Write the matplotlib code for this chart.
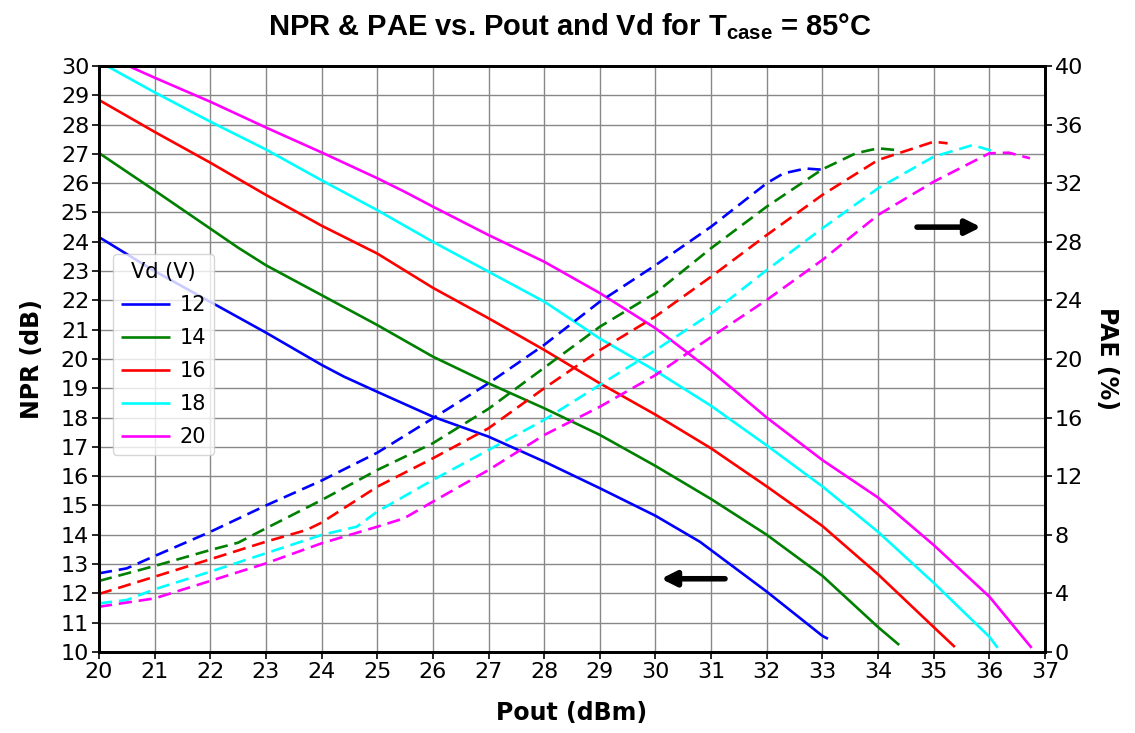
import matplotlib
matplotlib.use("Agg")
import matplotlib.pyplot as plt
import numpy as np

plt.rcParams['font.family'] = ['DejaVu Sans']
plt.rcParams['mathtext.fontset'] = 'custom'
plt.rcParams['mathtext.rm'] = 'DejaVu Sans'
plt.rcParams['mathtext.bf'] = 'Liberation Sans:bold'

# Vd values and colours
vd_labels = ['12', '14', '16', '18', '20']
colors = ['blue', 'green', 'red', 'cyan', 'magenta']

# NPR (dB) vs Pout (dBm), solid lines
npr_x_12 = [20, 21, 22, 23, 24, 24.4, 25, 26, 27, 28, 29, 30, 30.8, 32, 33, 33.1]
npr_12 = [24.16, 23.0, 21.95, 20.9, 19.8, 19.4, 18.88, 18.03, 17.35, 16.5, 15.59, 14.65, 13.76, 12.06, 10.55, 10.45]

npr_x_14 = [20, 21, 22, 22.5, 23, 24, 25, 26, 27, 28, 29, 30, 31, 32, 33, 34, 34.38]
npr_14 = [27.03, 25.75, 24.45, 23.8, 23.2, 22.18, 21.16, 20.08, 19.17, 18.32, 17.41, 16.35, 15.22, 14.0, 12.6, 10.85, 10.24]

npr_x_16 = [20, 21, 22, 23, 24, 25, 26, 27, 28, 29, 30, 31, 32, 33, 34, 35, 35.38]
npr_16 = [28.84, 27.75, 26.7, 25.6, 24.55, 23.6, 22.43, 21.39, 20.31, 19.17, 18.1, 16.95, 15.65, 14.3, 12.65, 10.85, 10.17]

npr_x_18 = [20, 21, 22, 23, 24, 25, 26, 27, 28, 29, 30, 31, 32, 33, 34, 35, 36, 36.15]
npr_18 = [30.15, 29.1, 28.1, 27.15, 26.1, 25.08, 24.0, 22.98, 21.96, 20.7, 19.6, 18.4, 17.05, 15.65, 14.1, 12.36, 10.52, 10.14]

npr_x_20 = [20, 21, 22, 23, 24, 25, 25.5, 26, 27, 28, 29, 30, 31, 32, 33, 34, 35, 36, 36.76]
npr_20 = [30.45, 29.6, 28.78, 27.9, 27.05, 26.17, 25.7, 25.2, 24.23, 23.32, 22.25, 21.05, 19.6, 18.0, 16.55, 15.27, 13.65, 11.89, 10.14]

# PAE (%) vs Pout (dBm), dashed lines
pae_x_12 = [20, 20.5, 21, 22, 23, 24, 25, 26, 27, 28, 29, 30, 31, 32, 32.3, 32.7, 33.07]
pae_12 = [5.37, 5.71, 6.55, 8.2, 10.0, 11.7, 13.6, 15.95, 18.34, 20.96, 23.91, 26.4, 29.03, 32.0, 32.67, 33.0, 32.9]

pae_x_14 = [20, 21, 22, 22.5, 23, 24, 25, 26, 27, 28, 29, 30, 31, 32, 33, 33.6, 34, 34.3]
pae_14 = [4.85, 5.87, 6.96, 7.46, 8.44, 10.37, 12.42, 14.25, 16.6, 19.4, 22.2, 24.5, 27.56, 30.4, 32.95, 34.04, 34.38, 34.27]

pae_x_16 = [20, 21, 22, 23, 23.73, 24, 25, 26, 27, 28, 29, 30, 31, 32, 33, 34, 35, 35.25]
pae_16 = [3.96, 5.14, 6.33, 7.53, 8.33, 8.83, 11.28, 13.22, 15.27, 18.0, 20.6, 22.9, 25.62, 28.46, 31.2, 33.58, 34.83, 34.72]

pae_x_18 = [20, 20.5, 21, 22, 23, 24, 24.63, 25, 26, 27, 28, 29, 30, 31, 32, 33, 34, 35, 35.7, 36.1]
pae_18 = [3.32, 3.55, 4.28, 5.48, 6.74, 7.99, 8.55, 9.58, 11.74, 13.79, 15.84, 18.23, 20.6, 23.1, 26.07, 28.92, 31.65, 33.81, 34.6, 34.15]

pae_x_20 = [20, 21, 22, 23, 24, 25, 25.48, 26, 27, 28, 29, 30, 31, 32, 33, 34, 35, 36, 36.35, 36.73]
pae_20 = [3.09, 3.66, 4.85, 6.05, 7.42, 8.55, 9.12, 10.26, 12.42, 14.81, 16.74, 18.9, 21.5, 24.03, 26.76, 29.83, 32.1, 34.04, 34.08, 33.7]

npr_sets = [(npr_x_12, npr_12), (npr_x_14, npr_14), (npr_x_16, npr_16), (npr_x_18, npr_18), (npr_x_20, npr_20)]
pae_sets = [(pae_x_12, pae_12), (pae_x_14, pae_14), (pae_x_16, pae_16), (pae_x_18, pae_18), (pae_x_20, pae_20)]

fig = plt.figure(figsize=(11.35, 7.33), dpi=100)
ax = fig.add_axes([0.0872, 0.1105, 0.8335, 0.7995])
ax2 = ax.twinx()

lw = 1.9
for (x, y), c, lab in zip(npr_sets, colors, vd_labels):
    ax.plot(x, y, color=c, lw=lw, label=lab, solid_capstyle='butt')
for (x, y), c in zip(pae_sets, colors):
    ax2.plot(x, y, color=c, lw=lw, linestyle=(0, (5, 2.6)))

ax.set_xlim(20, 37)
ax.set_ylim(10, 30)
ax2.set_ylim(0, 40)
ax.set_xticks(np.arange(20, 38, 1))
ax.set_yticks(np.arange(10, 31, 1))
ax2.set_yticks(np.arange(0, 41, 4))
ax.grid(True, color='#888888', lw=1.0)
ax.set_axisbelow(True)

ax.tick_params(labelsize=16, length=5, width=1.2, pad=2)
ax2.tick_params(labelsize=16, length=5, width=1.2, pad=2)
for a in (ax, ax2):
    for s in a.spines.values():
        s.set_linewidth(2)

ax.set_xlabel('Pout (dBm)', fontsize=17, fontweight='bold', labelpad=14)
ax.set_ylabel('NPR (dB)', fontsize=17, fontweight='bold', labelpad=12)
ax2.set_ylabel('PAE (%)', fontsize=17, fontweight='bold', rotation=270, labelpad=26)

fig.suptitle(r'NPR & PAE vs. Pout and Vd for T$_{\mathbf{case}}$ = 85°C', x=0.502, y=0.985,
             fontsize=21, fontweight='bold', family='Liberation Sans')

# arrows
ax.annotate('', xy=(30.05, 12.5), xytext=(31.3, 12.5),
            arrowprops=dict(arrowstyle='-|>', color='black', lw=4, mutation_scale=22))
ax.annotate('', xy=(35.9, 24.5), xytext=(34.65, 24.5),
            arrowprops=dict(arrowstyle='-|>', color='black', lw=4, mutation_scale=22))

leg = ax.legend(title='Vd (V)', loc='upper left', bbox_to_anchor=(0.008, 0.69),
                fontsize=15, title_fontsize=15, handlelength=2.35, labelspacing=0.62,
                handletextpad=0.45, borderaxespad=0.3, borderpad=0.4, framealpha=0.8)

plt.savefig('out.png', dpi=100)
